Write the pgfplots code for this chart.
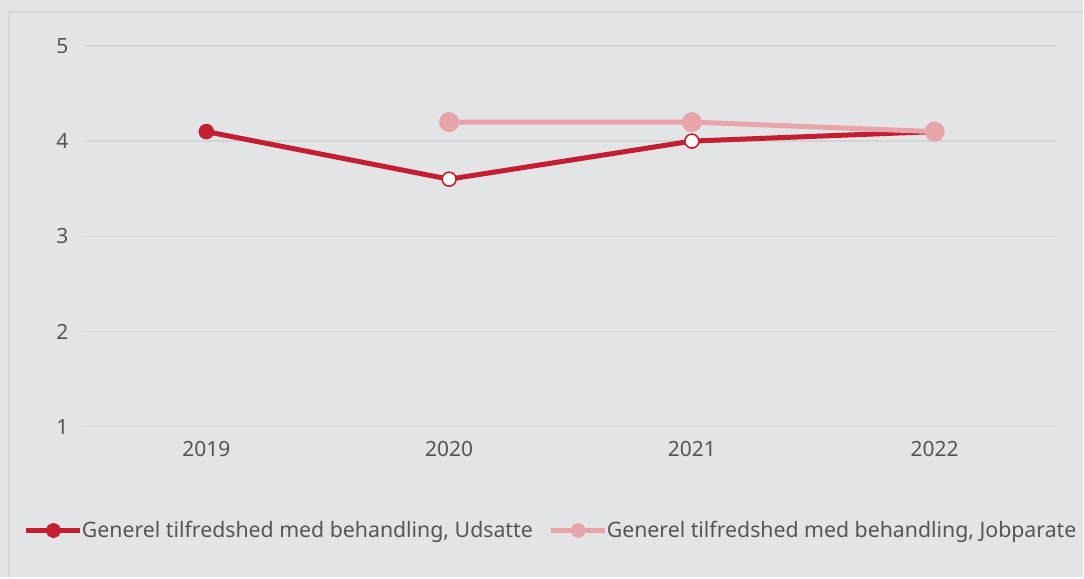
\documentclass[border=0pt]{standalone}
\usepackage{pgfplots}
\pgfplotsset{compat=1.18}
\usepackage{fontspec}
\setmainfont{Noto Sans}
\definecolor{bg}{HTML}{E3E4E6}
\definecolor{frame}{HTML}{D6D7D9}
\definecolor{gridc}{HTML}{D3D4D6}
\definecolor{redc}{HTML}{C41E33}
\definecolor{pinkc}{HTML}{E8A5A9}
\definecolor{txt}{HTML}{555555}
\begin{document}
\begin{tikzpicture}[x=1pt,y=1pt]
\fill[bg] (0,0) rectangle (1084,578);
\draw[frame,line width=2pt] (9,0) -- (9,566) -- (1084,566);
\begin{axis}[
  at={(85pt,151pt)}, anchor=south west,
  scale only axis, width=972pt, height=381pt,
  xmin=-0.5, xmax=3.5, ymin=1, ymax=5,
  xtick={0,1,2,3}, xticklabels={2019,2020,2021,2022},
  ytick={1,2,3,4,5},
  axis line style={draw=none},
  major tick length=0pt,
  ymajorgrids, grid style={gridc,line width=1.5pt},
  tick label style={font=\fontsize{21}{24}\selectfont, text=txt},
  /pgf/number format/assume math mode=true,
  yticklabel style={xshift=-13pt},
  xticklabel style={yshift=-11pt},
  clip=false,
  legend columns=2,
  legend style={at={(-0.063,-0.273)}, anchor=west, draw=none, fill=none,
    font=\fontsize{21.3}{24}\selectfont, text=txt,
    /tikz/every odd column/.append style={column sep=-3pt},
    /tikz/every even column/.append style={column sep=14pt},
    inner sep=0pt, row sep=0pt, cells={anchor=west}},
  legend image code/.code={%
    \draw[#1, mark repeat=2, mark phase=2] plot coordinates {(0pt,0pt) (27pt,0pt) (54pt,0pt)};},
]
\addplot[redc, line width=5pt, mark=*, mark size=5pt, mark options={fill=redc}]
  coordinates {(0,4.1)};
\addlegendentry{Generel tilfredshed med behandling, Udsatte}
\addplot[pinkc, line width=5pt, mark=*, mark size=5pt, mark options={fill=pinkc}]
  coordinates {(1,4.2)};
\addlegendentry{Generel tilfredshed med behandling, Jobparate}
\addplot[redc, line width=5pt, forget plot] coordinates {(0,4.1) (1,3.6) (2,4.0) (3,4.1)};
\addplot[redc, only marks, mark=*, mark size=7pt, mark options={line width=1.6pt, fill=white}, forget plot]
  coordinates {(1,3.6) (2,4.0)};
\addplot[redc, only marks, mark=*, mark size=7.5pt, mark options={fill=redc}, forget plot]
  coordinates {(0,4.1)};
\addplot[pinkc, line width=5pt, mark=*, mark size=7.5pt, mark options={fill=pinkc}, forget plot]
  coordinates {(1,4.2) (2,4.2) (3,4.1)};
\end{axis}
\end{tikzpicture}
\end{document}
